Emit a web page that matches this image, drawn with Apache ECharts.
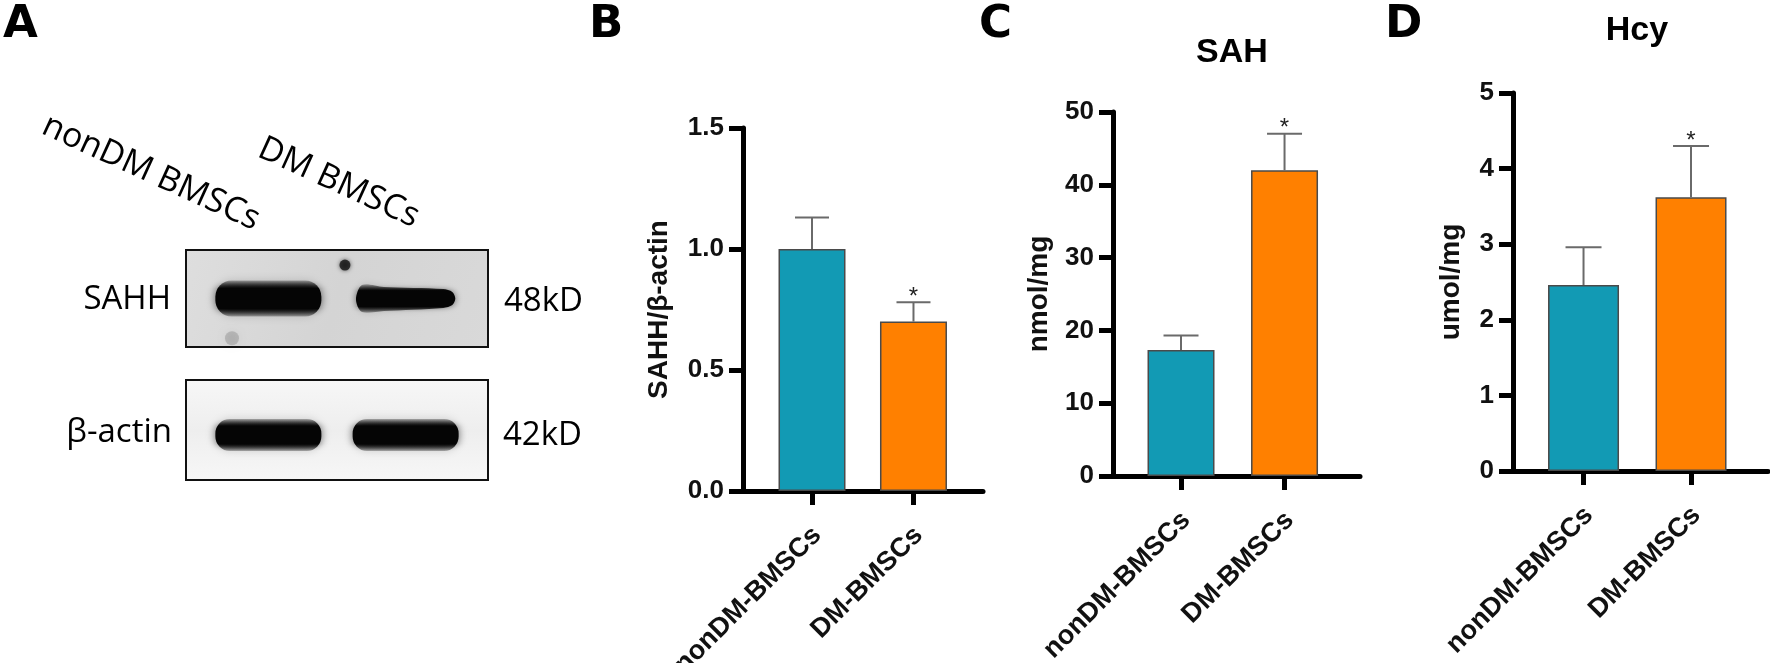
<!DOCTYPE html>
<html><head><meta charset="utf-8">
<script src="https://cdn.jsdelivr.net/npm/echarts@6/dist/echarts.min.js"></script>
<style>html,body{margin:0;padding:0;background:#fff}#c{width:1770px;height:663px}</style>
</head><body><div id="c"></div>
<script>
// ---- data ----
const laneLabels = ['nonDM BMSCs', 'DM BMSCs'];
const blotRows = ['SAHH', 'β-actin'];
const blotSizes = ['48kD', '42kD'];
const sahhBand = [1.0, 0.55];      // relative band intensity
const actinBand = [1.0, 1.0];
const blotDot = [[1.558, 0.845]];   // dark speck on SAHH membrane
const blotSmudge = [[0.735, 0.09]]; // faint smudge on SAHH membrane
const groups = ['nonDM-BMSCs', 'DM-BMSCs'];
const ratioMean = [1.00, 0.70];
const ratioSD = [0.13, 0.08];
const sahMean = [17.3, 42.0];
const sahSD = [2.0, 5.0];
const hcyMean = [2.46, 3.62];
const hcySD = [0.50, 0.68];
const significant = [false, true];
const ratioTicks = [0, 0.5, 1.0, 1.5];
const sahTicks = [0, 10, 20, 30, 40, 50];
const hcyTicks = [0, 1, 2, 3, 4, 5];
const panelLetters = ['A', 'B', 'C', 'D'];
const panelTitles = ['SAH', 'Hcy'];
const yNames = ['SAHH/β-actin', 'nmol/mg', 'umol/mg'];

// ---- styles ----
const barColors = ['#129ab4', '#ff8000'];
const AX = '"Liberation Sans", Arial, sans-serif';
const OS = '"Open Sans", "Noto Sans", sans-serif';
const chart = echarts.init(document.getElementById('c'), null, {renderer: 'canvas'});

function bandFill() {
  return new echarts.graphic.LinearGradient(0, 0, 0, 1, [
    {offset: 0, color: 'rgba(0,0,0,0.25)'}, {offset: 0.22, color: '#050505'},
    {offset: 0.78, color: '#050505'}, {offset: 1, color: 'rgba(0,0,0,0.25)'}]);
}

function bandRenderer(yFrac, hMax) {
  return function (params, api) {
    const lane = api.value(0), k = api.value(1);
    const c = api.coord([lane, yFrac]);
    const cy = c[1];
    const w = 106 * (0.86 + 0.14 * k);
    const x0 = c[0] - w / 2, x1 = c[0] + w / 2;
    if (k >= 0.8) {
      const h = hMax * k + 6;
      return {type: 'rect', shape: {x: x0, y: cy - h / 2, width: w, height: h, r: h * 0.45},
        style: {fill: bandFill(), shadowBlur: 8, shadowColor: 'rgba(0,0,0,0.6)'}};
    }
    const hl = hMax * k * 1.33 + 5, hr = hMax * k * 0.9 + 4;
    const pts = [[x0, cy + 1], [x0 + 6, cy - hl / 2], [x0 + 28, cy - hl / 2 + 2], [x1 - 12, cy - hr / 2],
      [x1 - 3, cy - hr * 0.35], [x1, cy], [x1 - 3, cy + hr * 0.35], [x1 - 12, cy + hr / 2],
      [x0 + 28, cy + hl / 2 - 1], [x0 + 6, cy + hl / 2]];
    return {type: 'polygon', shape: {points: pts, smooth: 0.3},
      style: {fill: bandFill(), shadowBlur: 7, shadowColor: 'rgba(0,0,0,0.55)'}};
  };
}

function errSeries(idx, means, sds, capHalf) {
  return {
    type: 'custom', xAxisIndex: idx, yAxisIndex: idx, z: 5,
    data: means.map((m, i) => [i + 1, m, sds[i], significant[i] ? 1 : 0]),
    encode: {x: 0, y: 1},
    renderItem(params, api) {
      const x = api.value(0), m = api.value(1), s = api.value(2), sig = api.value(3);
      const p0 = api.coord([x, m]), p1 = api.coord([x, m + s]);
      const st = {stroke: '#6a6a6a', lineWidth: 2};
      const ch = [
        {type: 'line', shape: {x1: p0[0], y1: p0[1], x2: p1[0], y2: p1[1]}, style: st},
        {type: 'line', shape: {x1: p1[0] - capHalf, y1: p1[1], x2: p1[0] + capHalf, y2: p1[1]}, style: st}
      ];
      if (sig) ch.push({type: 'text', x: p1[0], y: p1[1] - 5,
        style: {text: '*', font: '24px ' + AX, fill: '#222', textAlign: 'center', textVerticalAlign: 'middle'}});
      return {type: 'group', children: ch};
    }
  };
}

function barSeries(idx, means, width) {
  return {
    type: 'bar', xAxisIndex: idx, yAxisIndex: idx, barWidth: width, z: 3,
    data: means.map((m, i) => ({value: [i + 1, m], itemStyle: {color: barColors[i]}})),
    itemStyle: {borderColor: '#4a4a4a', borderWidth: 1.5}
  };
}

const LW = 5;
function xCat(idx, min, max) {
  return {
    gridIndex: idx, type: 'value', min: min, max: max,
    axisLine: {show: true, onZero: false, lineStyle: {color: '#000', width: LW}},
    axisTick: {show: true, customValues: [1, 2], length: 14, lineStyle: {color: '#000', width: LW}},
    axisLabel: {show: true, customValues: [1.05, 2.05], formatter: v => groups[Math.round(v) - 1] || '',
      rotate: 45, margin: 40, fontFamily: AX, fontWeight: 'bold', fontSize: 27, color: '#111', hideOverlap: false},
    splitLine: {show: false}
  };
}

function yVal(idx, ticks, name, gap, fmt) {
  return {
    gridIndex: idx, type: 'value', min: ticks[0], max: ticks[ticks.length - 1], interval: ticks[1] - ticks[0],
    axisLine: {show: true, lineStyle: {color: '#000', width: LW}},
    axisTick: {show: true, length: 14, lineStyle: {color: '#000', width: LW}},
    axisLabel: {margin: 19, fontFamily: AX, fontWeight: 'bold', fontSize: 26, color: '#111', formatter: fmt},
    splitLine: {show: false},
    name: name, nameLocation: 'middle', nameGap: gap,
    nameTextStyle: {fontFamily: AX, fontWeight: 'bold', fontSize: 28, color: '#111'}
  };
}

const hidden = (idx, min, max) => ({gridIndex: idx, type: 'value', min: min, max: max, show: false,
  axisLine: {show: false}, axisTick: {show: false}, axisLabel: {show: false}, splitLine: {show: false}});

function txt(x, y, text, font, align, vAlign, rot) {
  return {type: 'text', x: x, y: y, rotation: rot || 0,
    style: {text: text, font: font, fill: '#000', textAlign: align, textVerticalAlign: vAlign}};
}

const letterFont = 'bold 45px "DejaVu Sans", sans-serif';
const blotFont = '33px ' + OS;
const laneFont = '34px ' + OS;
const rot = -24.5 * Math.PI / 180;

const sahhBg = new echarts.graphic.LinearGradient(0, 0, 1, 1, [
  {offset: 0, color: '#dedede'}, {offset: 0.5, color: '#d4d4d4'}, {offset: 1, color: '#d9d9d9'}]);
const actinBg = new echarts.graphic.LinearGradient(0, 0, 0, 1, [
  {offset: 0, color: '#f7f7f7'}, {offset: 0.5, color: '#eeeeee'}, {offset: 1, color: '#f7f7f7'}]);

const gridBase = {containLabel: false, outerBoundsMode: 'none'};
chart.setOption({
  animation: false,
  backgroundColor: '#fff',
  grid: [
    Object.assign({left: 186, top: 250, width: 302, height: 97, show: true, backgroundColor: sahhBg, borderColor: '#111', borderWidth: 2}, gridBase),
    Object.assign({left: 186, top: 380, width: 302, height: 100, show: true, backgroundColor: actinBg, borderColor: '#111', borderWidth: 2}, gridBase),
    Object.assign({left: 743, top: 128, width: 240, height: 363}, gridBase),
    Object.assign({left: 1113, top: 112, width: 247, height: 364}, gridBase),
    Object.assign({left: 1513, top: 93, width: 255, height: 378}, gridBase)
  ],
  xAxis: [hidden(0, 0.4, 2.6), hidden(1, 0.4, 2.6),
    xCat(2, 0.320, 2.685), xCat(3, 0.343, 2.729), xCat(4, 0.344, 2.716)],
  yAxis: [hidden(0, 0, 1), hidden(1, 0, 1),
    yVal(2, ratioTicks, yNames[0], 70, v => v.toFixed(1)),
    yVal(3, sahTicks, yNames[1], 60, v => String(v)),
    yVal(4, hcyTicks, yNames[2], 48, v => String(v))],
  series: [
    {type: 'scatter', xAxisIndex: 0, yAxisIndex: 0, data: blotSmudge, symbolSize: 14, silent: true,
      itemStyle: {color: 'rgba(60,60,60,0.25)', shadowBlur: 6, shadowColor: 'rgba(0,0,0,0.3)'}},
    {type: 'scatter', xAxisIndex: 0, yAxisIndex: 0, data: blotDot, symbolSize: 11, silent: true,
      itemStyle: {color: '#111', shadowBlur: 4, shadowColor: 'rgba(0,0,0,0.7)'}},
    {type: 'custom', xAxisIndex: 0, yAxisIndex: 0, data: sahhBand.map((v, i) => [i + 1, v]),
      encode: {x: 0, y: 1}, renderItem: bandRenderer(0.5, 30)},
    {type: 'custom', xAxisIndex: 1, yAxisIndex: 1, data: actinBand.map((v, i) => [i + 1, v]),
      encode: {x: 0, y: 1}, renderItem: bandRenderer(0.45, 26)},
    barSeries(2, ratioMean, 67), errSeries(2, ratioMean, ratioSD, 17),
    barSeries(3, sahMean, 67), errSeries(3, sahMean, sahSD, 17.5),
    barSeries(4, hcyMean, 71), errSeries(4, hcyMean, hcySD, 18)
  ],
  graphic: [
    txt(3, 25, panelLetters[0], letterFont, 'left', 'middle'),
    txt(589, 25, panelLetters[1], letterFont, 'left', 'middle'),
    txt(979, 25, panelLetters[2], letterFont, 'left', 'middle'),
    txt(1385, 25, panelLetters[3], letterFont, 'left', 'middle'),
    txt(1232, 53, panelTitles[0], 'bold 34px ' + AX, 'center', 'middle'),
    txt(1637, 31, panelTitles[1], 'bold 34px ' + AX, 'center', 'middle'),
    txt(44, 124, laneLabels[0], laneFont, 'left', 'middle', rot),
    txt(260, 147, laneLabels[1], laneFont, 'left', 'middle', rot),
    txt(171, 300, blotRows[0], blotFont, 'right', 'middle'),
    txt(172, 433, blotRows[1], blotFont, 'right', 'middle'),
    txt(504, 302, blotSizes[0], blotFont, 'left', 'middle'),
    txt(503, 436, blotSizes[1], blotFont, 'left', 'middle')
  ]
});
</script></body></html>
